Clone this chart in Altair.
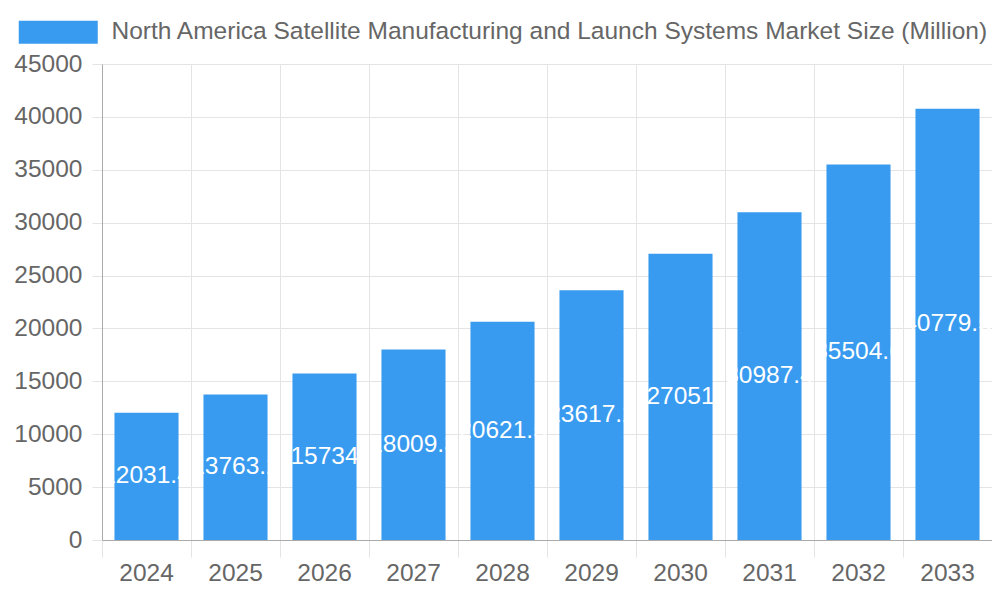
import pandas as pd
import altair as alt

# Market size per year (million)
years = ["2024", "2025", "2026", "2027", "2028", "2029", "2030", "2031", "2032", "2033"]
market_size = [12031.4, 13763.2, 15734.0, 18009.3, 20621.5, 23617.2, 27051.0, 30987.4, 35504.6, 40779.5]
series_name = "North America Satellite Manufacturing and Launch Systems Market Size (Million)"

data = pd.DataFrame({"year": years, "value": market_size, "series": series_name})

font = "Liberation Sans"
fsize = 24.5
grid_color = "#e4e4e4"
axis_color = "#aaaaaa"
label_color = "#666666"
bar_color = "#389bf0"

x_enc = alt.X(
    "year:O",
    title=None,
    scale=alt.Scale(paddingInner=0.28, paddingOuter=0.14),
    axis=alt.Axis(
        bandPosition=-0.1944, grid=True, gridColor=grid_color, tickColor=grid_color,
        tickSize=17, domainColor=axis_color, labelAngle=0, labelPadding=4,
        labelFontSize=fsize, labelColor=label_color, labelFont=font,
    ),
)

bars = alt.Chart(data).mark_bar().encode(
    x=x_enc,
    y=alt.Y(
        "value:Q",
        title=None,
        scale=alt.Scale(domain=[0, 45000], nice=False),
        axis=alt.Axis(
            values=list(range(0, 45001, 5000)), format="d", grid=True, gridColor=grid_color,
            tickColor=grid_color, tickSize=10, domainColor=axis_color,
            labelFontSize=fsize, labelColor=label_color, labelFont=font, labelPadding=10,
        ),
    ),
    color=alt.Color(
        "series:N",
        scale=alt.Scale(range=[bar_color]),
        legend=alt.Legend(
            title=None, orient="none", legendX=-84, legendY=-44, padding=0,
            symbolType="M-1,-1H5.87V1H-1Z", symbolSize=529, symbolStrokeWidth=0,
            symbolOpacity=1, labelOffset=69, labelFontSize=fsize, labelColor=label_color,
            labelFont=font, labelLimit=0,
        ),
    ),
)

# value labels, centred in the middle of each bar
labels = alt.Chart(data).transform_calculate(
    mid="datum.value / 2"
).mark_text(color="white", fontSize=fsize, font=font, align="center", baseline="middle").encode(
    x=alt.X("year:O"),
    y=alt.Y("mid:Q"),
    text=alt.Text("value:Q"),
)

chart = alt.layer(bars, labels).properties(
    width=890,
    height=476,
    autosize="none",
    padding={"left": 94, "top": 56, "right": 0, "bottom": 52},
).configure_view(stroke=grid_color)

chart.save("out.html", embed_options={"renderer": "svg", "actions": False})
